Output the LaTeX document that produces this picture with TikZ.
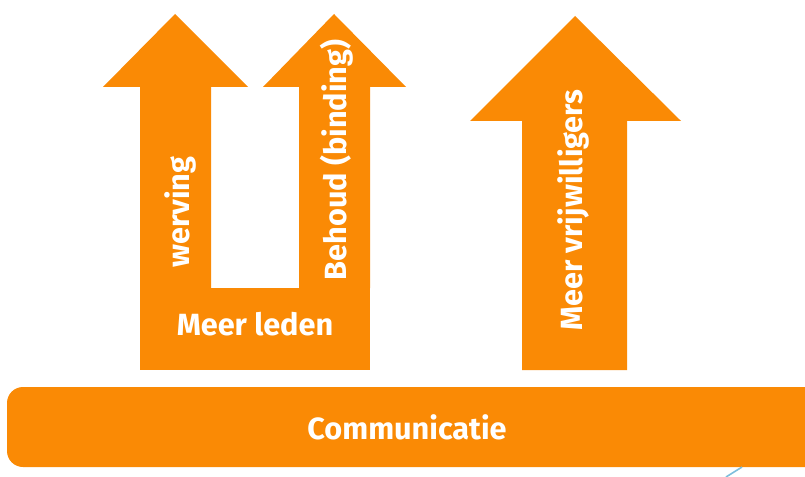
\documentclass[tikz,border=0pt]{standalone}
\usepackage{fontspec}
\setmainfont{Fira Sans}
\definecolor{oranje}{RGB}{250,138,5}
\definecolor{lichtblauw}{RGB}{125,190,220}
\tikzset{
  vlak/.style={fill=oranje},
  tekst/.style={text=white,inner sep=0pt,font=\bfseries\fontsize{23}{27}\selectfont},
}
\begin{document}
\begin{tikzpicture}[x=0.75pt,y=-0.75pt]
\useasboundingbox (0,0) rectangle (805,477);
% pijlen voor meer leden
\fill[vlak] (140,288) -- (140,87) -- (103,87) -- (175,14) -- (248,87) -- (211,87) -- (211,288) -- cycle;
\fill[vlak] (299,288) -- (299,87) -- (263,87) -- (334,14) -- (406,87) -- (370,87) -- (370,288) -- cycle;
\fill[vlak] (140,288) rectangle (370,370);
% pijl vrijwilligers
\fill[vlak] (522,370) -- (522,121) -- (470,121) -- (575,16) -- (681,121) -- (627,121) -- (627,370) -- cycle;
% balk onderaan
\begin{scope}
\clip (0,0) rectangle (805,477);
\fill[vlak,rounded corners=12] (7,387) rectangle (840,467);
\end{scope}
\draw[color=lichtblauw,line width=1.2pt] (726,477) -- (742,467);
% teksten
\node[tekst] (communicatie) at (407,427) {Communicatie};
\node[tekst] (leden) at (255,324) {Meer leden};
\node[tekst,rotate=90] (werving) at (180,212) {werving};
\node[tekst,rotate=90] (behoud) at (337,160) {Behoud (binding)};
\node[tekst,rotate=90] (vrijwilligers) at (573,210) {Meer vrijwilligers};
\end{tikzpicture}
\end{document}
